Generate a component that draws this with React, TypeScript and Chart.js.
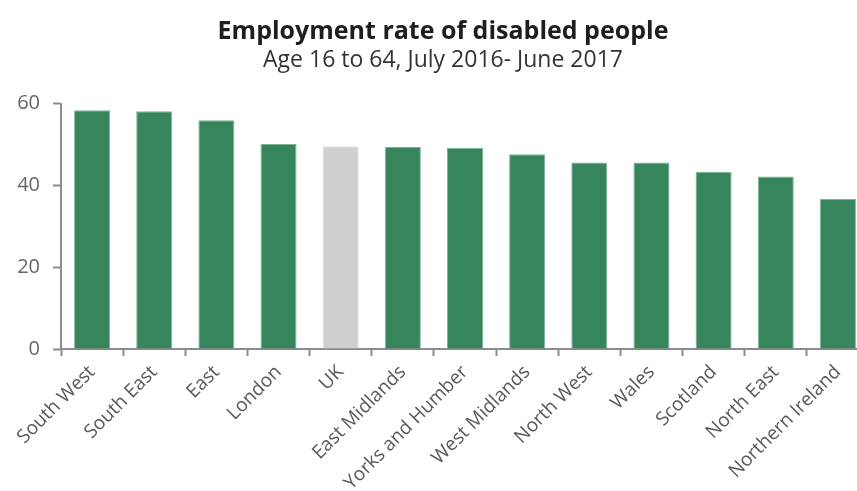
import React, { useEffect, useRef } from "react";
import { Chart, registerables } from "chart.js";
Chart.register(...registerables);

const categories = [
  "South West",
  "South East",
  "East",
  "London",
  "UK",
  "East Midlands",
  "Yorks and Humber",
  "West Midlands",
  "North West",
  "Wales",
  "Scotland",
  "North East",
  "Northern Ireland",
];
const values = [58.4, 58.1, 55.9, 50.1, 49.6, 49.4, 49.2, 47.6, 45.6, 45.6, 43.3, 42.2, 36.7];
const highlightCategory = "UK";
const yMin = 0;
const yMax = 60;
const yStep = 20;
const titleText = "Employment rate of disabled people";
const subtitleText = "Age 16 to 64, July 2016- June 2017";

const GREEN = "#37855c";
const GREEN_EDGE = "#7fb596";
const GREY = "#d0cfd0";
const GREY_EDGE = "#e2e1e2";
const AXIS = "#8c8c8c";
const FONT = "'Open Sans', 'Noto Sans', sans-serif";

const CANVAS_W = 887;
const CANVAS_H = 540;
const PLOT_BOTTOM = 349;
const PLOT_LEFT = 61;
const PAD_LEFT = 17;
const PAD_RIGHT = 18;

export default function App() {
  const ref = useRef<HTMLCanvasElement>(null);
  useEffect(() => {
    const chart = new Chart(ref.current!, {
      type: "bar",
      data: {
        labels: categories,
        datasets: [
          {
            data: values,
            backgroundColor: categories.map((c) => (c === highlightCategory ? GREY : GREEN)),
            borderColor: categories.map((c) => (c === highlightCategory ? GREY_EDGE : GREEN_EDGE)),
            borderWidth: { top: 1, left: 1, right: 1, bottom: 0 },
            barPercentage: 0.58,
            categoryPercentage: 1,
          },
        ],
      },
      options: {
        animation: false,
        responsive: false,
        maintainAspectRatio: false,
        layout: { padding: { top: 0, right: PAD_RIGHT, left: PAD_LEFT, bottom: 0 } },
        plugins: {
          legend: { display: false },
          tooltip: { enabled: false },
          title: {
            display: true,
            text: titleText,
            color: "#1e1e1e",
            font: { family: FONT, size: 25, weight: "bold", lineHeight: 1.2 },
            padding: { top: 17, bottom: 0 },
          },
          subtitle: {
            display: true,
            text: subtitleText,
            color: "#333333",
            font: { family: FONT, size: 23, weight: "normal", lineHeight: 1.2 },
            padding: { top: 0, bottom: 29 },
          },
        },
        scales: {
          x: {
            grid: {
              offset: true,
              drawOnChartArea: false,
              drawTicks: true,
              tickLength: 7,
              tickWidth: 2,
              color: AXIS,
            },
            border: { display: true, color: AXIS, width: 2 },
            ticks: {
              autoSkip: false,
              maxRotation: 45,
              minRotation: 45,
              color: "#595959",
              font: { family: FONT, size: 19 },
              padding: 5,
            },
            afterFit: (s: any) => {
              s.height = CANVAS_H - PLOT_BOTTOM;
            },
          },
          y: {
            min: yMin,
            max: yMax,
            grid: {
              drawOnChartArea: false,
              drawTicks: true,
              tickLength: 8,
              tickWidth: 2,
              color: AXIS,
            },
            border: { display: true, color: AXIS, width: 2 },
            ticks: {
              stepSize: yStep,
              color: "#666666",
              font: { family: FONT, size: 20 },
              padding: 13,
            },
            afterFit: (s: any) => {
              s.width = PLOT_LEFT - PAD_LEFT;
            },
          },
        },
      },
    });
    return () => chart.destroy();
  }, []);

  return (
    <div
      style={{
        position: "fixed",
        left: 0,
        top: 0,
        width: 857,
        height: 491,
        overflow: "hidden",
        background: "#fff",
      }}
    >
      <canvas ref={ref} width={CANVAS_W} height={CANVAS_H} style={{ display: "block" }} />
    </div>
  );
}
